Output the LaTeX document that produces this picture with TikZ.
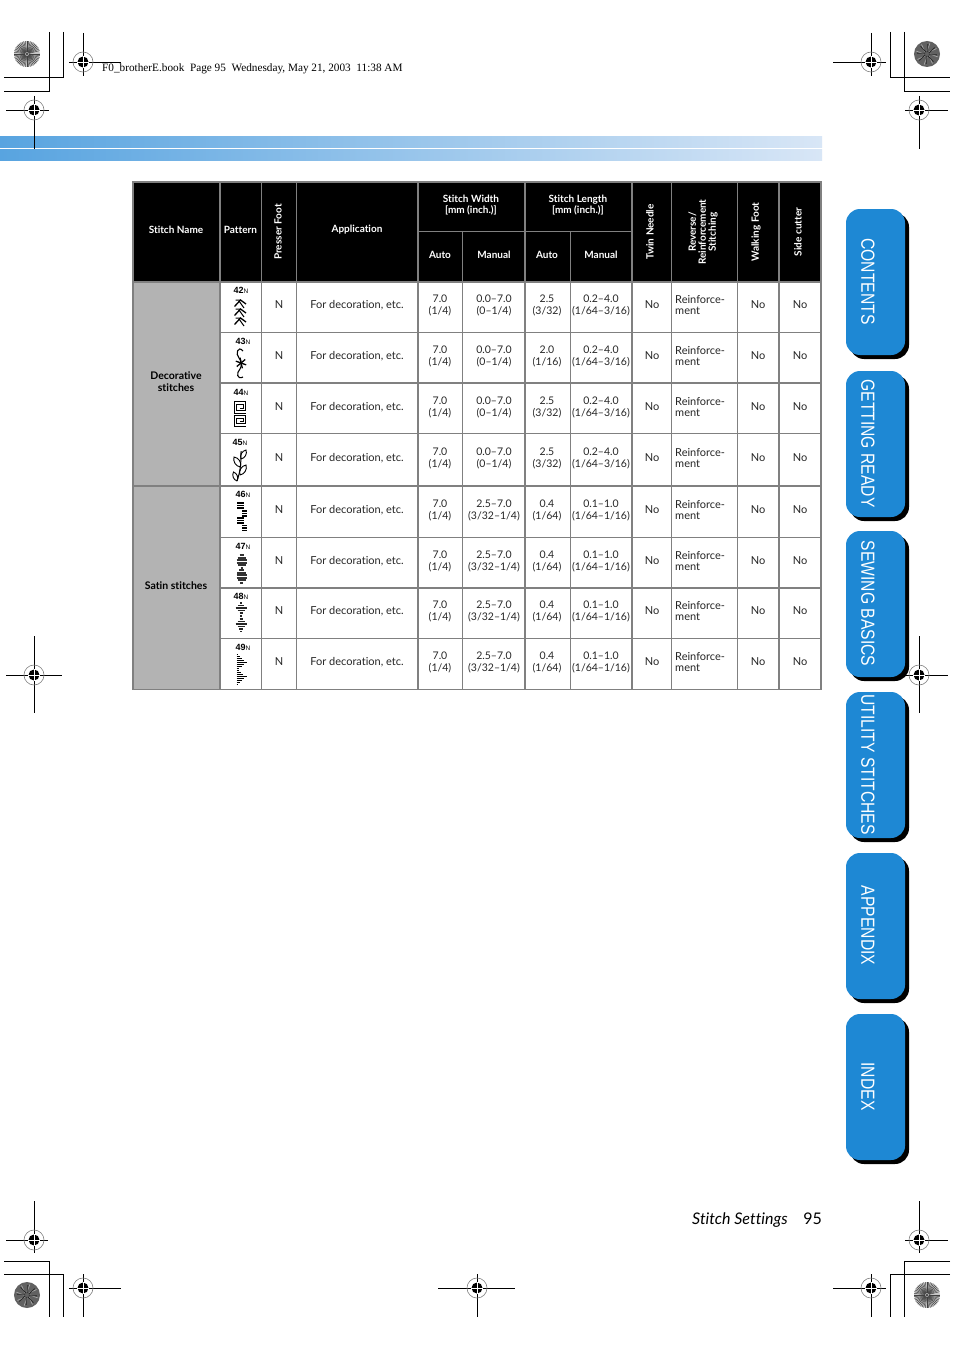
\documentclass[tikz,border=0pt]{standalone}
\usepackage{fontspec}
\setmainfont{Lato}[Ligatures=NoCommon]
\newfontfamily\headerfont{Liberation Serif}
\newfontfamily\tabfont{Liberation Sans}
\usetikzlibrary{positioning, calc}

\definecolor{tabblue}{RGB}{30,136,212}
\definecolor{gridgray}{RGB}{128,128,128}
\definecolor{groupgray}{RGB}{179,179,179}
\definecolor{bandleft}{RGB}{88,164,224}
\definecolor{bandright}{RGB}{216,230,246}

% crosshair: x, y, left, right, top, bottom
\newcommand{\regmark}[6]{
  \draw[regline] (#3,#2) -- (#4,#2);
  \draw[regline] (#1,#5) -- (#1,#6);
  \draw[gray, line width=0.6pt] (#1,#2) circle[radius=10];
  \fill[black] (#1,#2) circle[radius=5.5];
  \draw[white, line width=0.7pt] (#1-6,#2) -- (#1+6,#2) (#1,#2-6) -- (#1,#2+6);
}
% light colour disc
\newcommand{\lightdisc}[2]{
  \fill[gray!45] (#1,#2) circle[radius=13];
  \foreach \a in {0,7.5,...,352} {
    \draw[black!75, line width=0.45pt] ($(#1,#2)+(\a:2)$) -- ($(#1,#2)+(\a:13)$);
  }
  \fill[black!70] (#1,#2) circle[radius=1.5];
}
% dark colour disc
\newcommand{\darkdisc}[2]{
  \fill[black!62] (#1,#2) circle[radius=13];
  \foreach \a in {0,45,...,315} {
    \draw[black!35, line width=0.8pt] ($(#1,#2)+(\a:3)$) -- ($(#1,#2)+(\a+15:11)$);
    \draw[black!85, line width=0.8pt] ($(#1,#2)+(\a+20:2)$) -- ($(#1,#2)+(\a+5:10)$);
  }
}

\begin{document}
\begin{tikzpicture}[x=1pt, y=-1pt,
    regline/.style={black, line width=0.95pt},
    cropline/.style={black, line width=0.95pt},
    thingrid/.style={gridgray, line width=0.8pt},
    thickgrid/.style={gridgray, line width=1.6pt},
    headcell/.style={white, align=center, inner sep=0pt, yshift=-1pt, font=\fontsize{10}{10.5}\selectfont\bfseries},
    headturn/.style={headcell, rotate=90},
    groupcell/.style={black, align=center, inner sep=0pt, yshift=-0.5pt, font=\fontsize{10.5}{11.5}\selectfont\bfseries},
    datacell/.style={black!85, align=center, inner sep=0pt, yshift=-1.7pt, font=\fontsize{10.5}{11.5}\selectfont},
    wordcell/.style={datacell, yshift=0.7pt, font=\fontsize{11}{11.5}\selectfont},
    numlabel/.style={black, inner sep=0pt, yshift=-0.5pt, font=\tabfont\fontsize{9}{9}\selectfont\bfseries},
    stitchline/.style={black, line width=1pt},
    tabtext/.style={white, rotate=-90, inner sep=0pt, font=\tabfont\fontsize{19}{19}\selectfont}]

  \useasboundingbox (0,0) rectangle (954,1351);
  \fill[white] (0,0) rectangle (954,1351);

  % Gradient bands
  \fill[left color=bandleft, right color=bandright] (0,137) rectangle (822,148);
  \fill[left color=bandleft, right color=bandright] (0,150) rectangle (822,161);

  % Crop corners
  \draw[cropline] (63,32) -- (63,77) -- (4,77);
  \draw[cropline] (49,32) -- (49,91) -- (4,91);
  \draw[cropline] (890,32) -- (890,77) -- (950,77);
  \draw[cropline] (904,32) -- (904,91) -- (950,91);
  \draw[cropline] (4,1261) -- (49,1261) -- (49,1317);
  \draw[cropline] (4,1274) -- (63,1274) -- (63,1317);
  \draw[cropline] (950,1261) -- (904,1261) -- (904,1317);
  \draw[cropline] (950,1274) -- (890,1274) -- (890,1317);

  % Registration marks
  \regmark{83}{62}{69}{121}{33}{76}
  \regmark{34}{110}{6}{49}{96}{149}
  \regmark{871}{62}{833}{886}{33}{76}
  \regmark{919}{110}{905}{948}{96}{149}
  \regmark{34}{675}{6}{62}{636}{713}
  \regmark{919}{675}{905}{948}{636}{713}
  \regmark{34}{1240}{6}{48}{1201}{1253}
  \regmark{919}{1240}{905}{948}{1201}{1253}
  \regmark{83}{1288}{69}{121}{1274}{1317}
  \regmark{477}{1288}{438}{515}{1274}{1317}
  \regmark{871}{1288}{833}{886}{1274}{1317}

  \lightdisc{27}{54}
  \darkdisc{927}{54}
  \darkdisc{27}{1295}
  \lightdisc{927}{1295}

  \node[anchor=base west, inner sep=0pt, font=\headerfont\fontsize{11.25}{11.25}\selectfont] (slug) at (102,72)
    {F0\_brotherE.book\ \ Page 95\ \ Wednesday, May 21, 2003\ \ 11:38 AM};

  % Table fills
  \fill[black] (133,182) rectangle (821,282);
  \fill[groupgray] (133,282) rectangle (220,690);

  % Table grid
  \foreach \x in {261,296,671,737} {
    \draw[thingrid] (\x,182) -- (\x,690);
  }
  \foreach \x in {220,418,525,632,779} {
    \draw[thickgrid] (\x,182) -- (\x,690);
  }
  \foreach \x in {462,570} {
    \draw[thingrid] (\x,231) -- (\x,690);
  }
  \draw[thingrid] (418,231) -- (632,231);
  \foreach \y in {332,433,537,638} {
    \draw[thingrid] (220,\y) -- (821,\y);
  }
  \foreach \y in {383,486,588} {
    \draw[thickgrid] (220,\y) -- (821,\y);
  }
  \draw[thickgrid] (133,486) -- (220,486);
  \draw[thickgrid] (133,282) -- (821,282);
  \draw[gridgray, line width=1.6pt] (133,182) rectangle (821,689.5);

  % Header
  \node[headcell] (name) at (176,229) {Stitch Name};
  \node[headcell] (pattern) at (240.5,229) {Pattern};
  \node[headturn] (foot) at (278,231) {Presser Foot};
  \node[headcell] (application) at (357,229) {Application};
  \node[headcell] (width) at (471,204) {Stitch Width\\{}[mm (inch.)]};
  \node[headcell] (length) at (578,204) {Stitch Length\\{}[mm (inch.)]};
  \foreach \i/\x/\t in {1/440/Auto, 2/494/Manual, 3/547/Auto, 4/601/Manual} {
    \node[headcell] (sub\i) at (\x,254) {\t};
  }
  \node[headturn] (twin) at (650,231) {Twin Needle};
  \node[headturn, font=\fontsize{10}{10}\selectfont\bfseries] (reverse) at (703,231) {Reverse/\\Reinforcement\\Stitching};
  \node[headturn] (walking) at (756,231) {Walking Foot};
  \node[headturn] (cutter) at (798,231) {Side cutter};

  \node[groupcell] (decorative) at (176,381) {Decorative\\stitches};
  \node[groupcell] (satin) at (176,585) {Satin stitches};

  % Rows
  \foreach \r/\y in {1/304, 2/355, 3/406, 4/457, 5/509, 6/560, 7/610, 8/661} {
    \node[wordcell] (foot\r) at (279,\y) {N};
    \node[wordcell] (use\r) at (357,\y) {For decoration, etc.};
    \node[datacell] (wauto\r) at (440,\y) {7.0\\(1/4)};
    \node[wordcell] (twin\r) at (652,\y) {No};
    \node[wordcell, align=left, anchor=west] (rein\r) at (675,\y) {Reinforce-\\ment};
    \node[wordcell] (walk\r) at (758,\y) {No};
    \node[wordcell] (side\r) at (800,\y) {No};
  }
  \foreach \r/\y/\la/\lb in {1/304/2.5/{(3/32)}, 2/355/2.0/{(1/16)}, 3/406/2.5/{(3/32)}, 4/457/2.5/{(3/32)}} {
    \node[datacell] (wman\r) at (494,\y) {0.0--7.0\\(0--1/4)};
    \node[datacell] (lauto\r) at (547,\y) {\la\\\lb};
    \node[datacell] (lman\r) at (601,\y) {0.2--4.0\\(1/64--3/16)};
  }
  \foreach \r/\y in {5/509, 6/560, 7/610, 8/661} {
    \node[datacell] (wman\r) at (494,\y) {2.5--7.0\\(3/32--1/4)};
    \node[datacell] (lauto\r) at (547,\y) {0.4\\(1/64)};
    \node[datacell] (lman\r) at (601,\y) {0.1--1.0\\(1/64--1/16)};
  }

  % Pattern numbers
  \foreach \n/\x/\y in {42/241/290, 43/243/341, 44/241/392, 45/240/442, 46/243/494, 47/243/546, 48/241/596, 49/243/647} {
    \node[numlabel] (num\n) at (\x,\y) {\n{\fontsize{6.5}{6.5}\selectfont\mdseries N}};
  }

  % Stitch 42
  \foreach \d in {0,9,18} {
    \draw[black, line width=1.3pt] (234.5,306.5+\d) -- (240.5,300+\d) -- (246,304+\d);
    \draw[black, line width=1pt] (239,301+\d) -- (244,308+\d) (235.5,300+\d) -- (240.5,300+\d);
  }
  % Stitch 43
  \draw[stitchline, line width=1.1pt] (243,351) .. controls (238,345) and (235,354) .. (239,358) .. controls (242,361) and (242,366) .. (240,369) .. controls (236,373) and (237,380) .. (243,377);
  \foreach \a in {20,75,140,200,260,320} {
    \draw[stitchline, line width=1.3pt] (241,363) -- ++(\a:5.5);
  }
  % Stitch 44
  \foreach \d in {0,13.5} {
    \draw[black, line width=1pt] (240,408+\d) -- (243,408+\d) -- (243,404.5+\d) -- (236.8,404.5+\d) -- (236.8,410.2+\d) -- (245.5,410.2+\d) -- (245.5,401.5+\d) -- (234,401.5+\d) -- (234,413+\d) -- (245.5,413+\d);
  }
  % Stitch 45
  \draw[stitchline] (241,451) .. controls (241,460) and (241,470) .. (237,481);
  \foreach \px/\py/\qx/\qy in {241/459/246/450, 240.5/467/234/457, 240/475/246/465, 237/481/233.5/472} {
    \draw[black, line width=0.9pt] (\px,\py) to[bend left=50] (\qx,\qy) to[bend left=50] (\px,\py);
  }
  % Stitch 46
  \foreach \y in {503,505.5,508,518,520.5,523} {
    \draw[stitchline, line width=1.5pt] (237,\y) -- (244,\y);
  }
  \foreach \y in {511,513.5,516,525.5,528,530.5} {
    \draw[stitchline, line width=1.5pt] (242,\y) -- (247,\y);
  }
  % Stitch 47
  \foreach \y/\w in {555/2, 557.5/4, 560/5, 562.5/5, 565/4, 567.5/1, 570/2.5, 572.5/4.5, 575/5, 577.5/5, 580/4, 582.5/1.2} {
    \draw[black!80, line width=2pt] (241.5-\w,\y) -- (241.5+\w,\y);
  }
  % Stitch 48
  \foreach \y/\w in {603/1, 605.5/3, 608/5.5, 610.5/3.5, 613/1.5, 616/0.7, 619/1.5, 621.5/3.5, 624/5.5, 626.5/3.5, 629/1.6, 631.5/0.6} {
    \draw[black!85, line width=1.7pt] (241-\w,\y) -- (241+\w,\y);
  }
  % Stitch 49
  \foreach \y/\w in {654/1, 656/3, 658/5, 660/7, 662/10, 664/7, 666/5, 668/2, 670/2, 672/4, 674/6, 676/10, 678/7, 680/5, 682/3, 684/1} {
    \draw[stitchline, line width=0.9pt] (236.5,\y) -- (236.5+\w,\y);
  }

  % Side tabs
  \foreach \i/\y/\t in {1/209/CONTENTS, 2/371/GETTING READY, 3/531/SEWING BASICS, 4/692/UTILITY STITCHES, 5/853/APPENDIX, 6/1014/INDEX} {
    \fill[black, rounded corners=14pt] (850,\y+4) rectangle (909,\y+150);
    \fill[tabblue, rounded corners=14pt] (846,\y) rectangle (905,\y+146);
    \node[tabtext] (tab\i) at (868,\y+72.5) {\scalebox{0.825}[1]{\t}};
  }

  % Page foot
  \node[anchor=base west, inner sep=0pt, font=\fontsize{16}{16}\selectfont\itshape] (foottitle) at (692,1224) {Stitch Settings};
  \node[anchor=base east, inner sep=0pt, font=\fontsize{16}{16}\selectfont] (pagenum) at (822,1224) {95};
\end{tikzpicture}
\end{document}
